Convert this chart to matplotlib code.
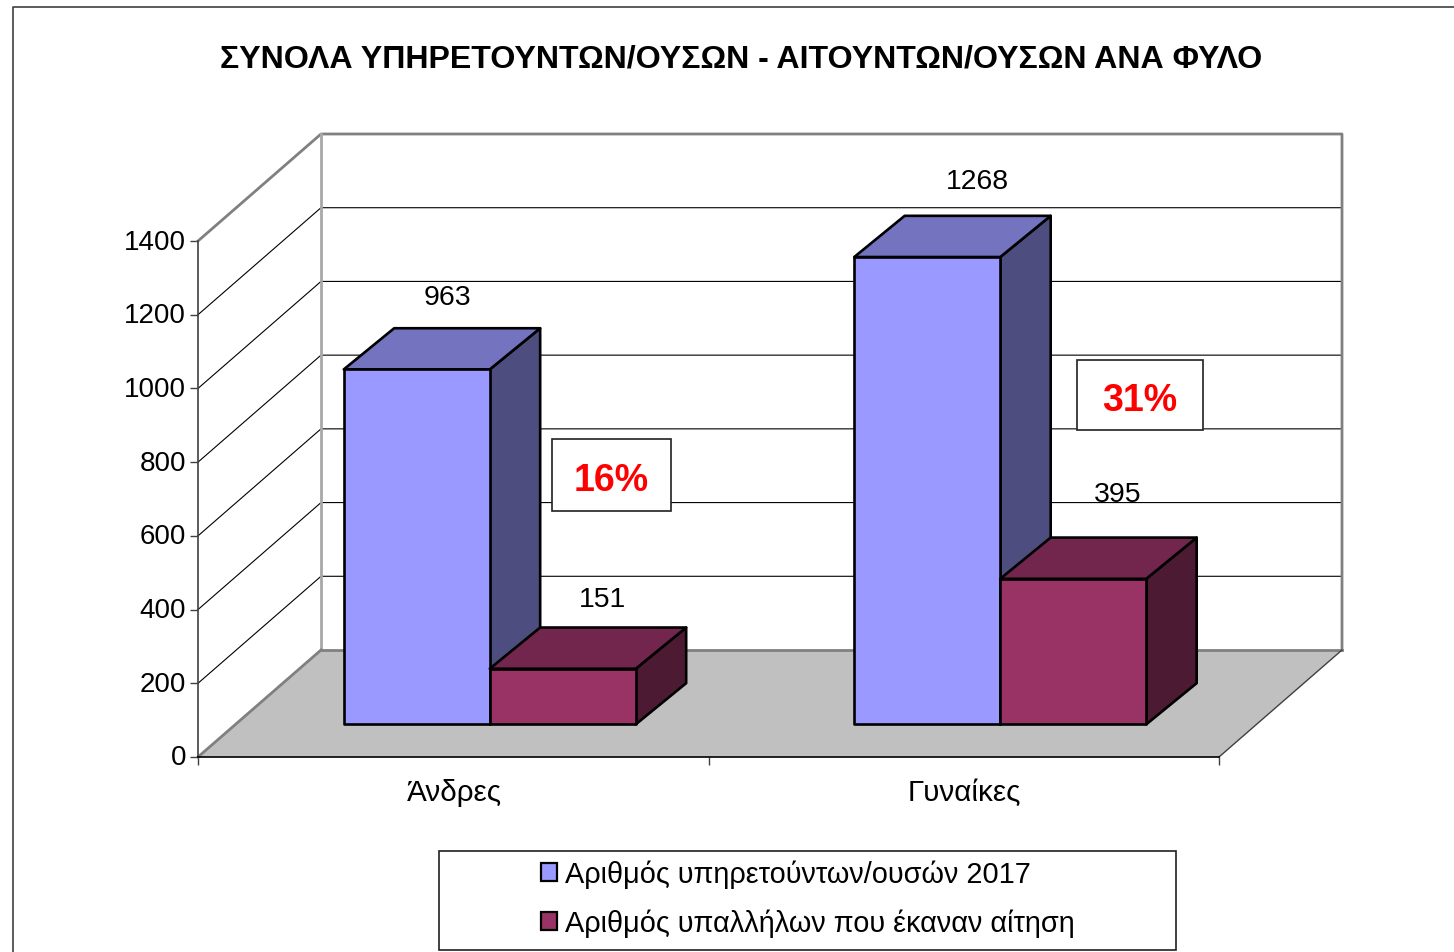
import matplotlib
matplotlib.use("Agg")
import matplotlib.pyplot as plt
from matplotlib.lines import Line2D
from matplotlib.patches import Patch, Polygon, Rectangle
from matplotlib.transforms import Affine2D, ScaledTranslation

plt.rcParams["font.family"] = ["Liberation Sans", "DejaVu Sans"]

# data
title = "ΣΥΝΟΛΑ ΥΠΗΡΕΤΟΥΝΤΩΝ/ΟΥΣΩΝ - ΑΙΤΟΥΝΤΩΝ/ΟΥΣΩΝ ΑΝΑ ΦΥΛΟ"
categories = ["Άνδρες", "Γυναίκες"]
series_names = ["Αριθμός υπηρετούντων/ουσών 2017", "Αριθμός υπαλλήλων που έκαναν αίτηση"]
serving = [963, 1268]
applied = [151, 395]
percents = ["16%", "31%"]
y_ticks = [0, 200, 400, 600, 800, 1000, 1200, 1400]

W, H = 1454, 953
fig = plt.figure(figsize=(W / 100, H / 100), dpi=100, facecolor="white")
px = Affine2D().scale(1, -1).translate(0, H)  # top-left pixel coords

# front plane of the 3d box
L, R, B, T = 198, 1219, 758, 242
ax = fig.add_axes([L / W, 1 - B / H, (R - L) / W, (B - T) / H])
ax.set_xlim(0, 2)
ax.set_ylim(0, 1400)
ax.patch.set_alpha(0)
for s in ax.spines.values():
    s.set_visible(False)

# depth of the box in data units
DX = 123 / (R - L) * 2
DY = 107 / (B - T) * 1400


def depth(x, y, d, dy=None):
    return (x + DX * d, y + DY * (d if dy is None else dy))


# floor
ax.add_patch(Polygon([depth(0, 0, 0), depth(2, 0, 0), depth(2, 0, 1), depth(0, 0, 1)],
                     fc="#C0C0C0", ec="none", clip_on=False, zorder=1))
grey = "#808080"
for a, b in [(depth(0, 0, 0), depth(0, 0, 1)), (depth(0, 0, 1), depth(2, 0, 1))]:
    ax.plot([a[0], b[0]], [a[1], b[1]], color=grey, lw=2, clip_on=False, zorder=2)
a, b = depth(2, 0, 0), depth(2, 0, 1)
ax.plot([a[0], b[0]], [a[1], b[1]], color="#404040", lw=1, clip_on=False, zorder=2)

# walls
for v in y_ticks[1:-1]:
    p0, p1, p2 = depth(0, v, 0), depth(0, v, 1), depth(2, v, 1)
    ax.plot([p0[0], p1[0], p2[0]], [p0[1], p1[1], p2[1]], color="black", lw=0.8,
            clip_on=False, zorder=1.5)
top = y_ticks[-1]
p0, p1, p2, p3 = depth(0, top, 0), depth(0, top, 1), depth(2, top, 1), depth(2, 0, 1)
ax.plot([p0[0], p1[0], p2[0], p3[0]], [p0[1], p1[1], p2[1], p3[1]], color=grey, lw=2,
        clip_on=False, zorder=1.6)
p4 = depth(0, 0, 1)
ax.plot([p1[0], p4[0]], [p1[1], p4[1]], color="#A8A8A8", lw=2, clip_on=False, zorder=1.6)

# front axis lines
ax.plot([0, 0], [0, top], color="#404040", lw=1.2, clip_on=False, zorder=3)
ax.plot([0, 2], [0, 0], color="black", lw=1.2, clip_on=False, zorder=3)

# bars
bar_w = 0.286
d0, d1, d1y = 0.305, 0.715, 0.69
offs = [(-bar_w, "#9999FF", "#7373BF", "#4D4D80", serving), (0, "#993366", "#73264D", "#4D1A33", applied)]
label_off = [[(31, 72), (50, 76)], [(40, 70), (44, 85)]]
for k, (off, face, top_c, side, vals) in enumerate(offs):
    for i, v in enumerate(vals):
        x0 = i + 0.498 + off
        x1 = x0 + bar_w
        z = 5 + i * 2 + k
        kw = dict(ec="black", lw=1.9, joinstyle="round", clip_on=False, zorder=z)
        ax.add_patch(Polygon([depth(x1, 0, d0), depth(x1, 0, d1, d1y), depth(x1, v, d1, d1y), depth(x1, v, d0)], fc=side, **kw))
        ax.add_patch(Polygon([depth(x0, v, d0), depth(x1, v, d0), depth(x1, v, d1, d1y), depth(x0, v, d1, d1y)], fc=top_c, **kw))
        ax.add_patch(Polygon([depth(x0, 0, d0), depth(x1, 0, d0), depth(x1, v, d0), depth(x0, v, d0)], fc=face, **kw))
        lx, ly = label_off[k][i]
        ax.annotate(str(v), depth((x0 + x1) / 2, v, d0), xytext=(lx * 0.72, ly * 0.72),
                    textcoords="offset points", ha="center", va="center", fontsize=20.4, zorder=20)

# axes ticks
ax.set_yticks(y_ticks)
ax.set_xticks([0, 1, 2])
ax.set_xticklabels([])
ax.set_xticks([0.5, 1.5], minor=True)
ax.set_xticklabels(categories, minor=True, fontsize=21.3)
ax.tick_params(axis="y", length=6, width=1, color="#404040", labelsize=20, pad=2.5)
ax.tick_params(axis="x", which="major", length=6, width=1, color="#404040")
ax.tick_params(axis="x", which="minor", length=0, pad=15)
# nudge tick labels a little
up = ScaledTranslation(0, 2.5 / 100, fig.dpi_scale_trans)
for lab in ax.get_yticklabels():
    lab.set_transform(lab.get_transform() + up)
right = ScaledTranslation(1 / 100, 0, fig.dpi_scale_trans)
for lab in ax.get_xticklabels(minor=True):
    lab.set_transform(lab.get_transform() + right)

# title and outer frame
fig.text(741, 60, title, transform=px, ha="center", va="center", fontsize=23.1, fontweight="bold")
fig.add_artist(Line2D([13, 13, W], [H, 7.5, 7.5], transform=px, color="#404040", lw=1.2))

# percent boxes (overlay)
for (x, y, w, h), p in zip([(552, 439.5, 119, 72), (1077, 360.5, 126, 70)], percents):
    fig.add_artist(Rectangle((x, y), w, h, transform=px, fc="white", ec="#202020", lw=1.2, zorder=30))
    fig.text(x + w / 2, y + h / 2 + 6, p, transform=px, ha="center", va="center", color="red",
             fontsize=27, fontweight="bold", zorder=31)

# legend
fig.add_artist(Rectangle((439, 852), 737, 98.5, transform=px, fc="white", ec="#202020", lw=1.2, zorder=30))
handles = [Patch(fc="#9999FF", ec="black", lw=1.6), Patch(fc="#993366", ec="black", lw=1.6)]
leg = fig.legend(handles, series_names, loc="upper left", bbox_to_anchor=(538, 858), bbox_transform=px,
                 frameon=False, fontsize=20.8, borderpad=0.1, borderaxespad=0, handlelength=0.56,
                 handleheight=0.56, handletextpad=0.27, labelspacing=0.7)
leg.set_zorder(31)

fig.savefig("out.png", dpi=100)
